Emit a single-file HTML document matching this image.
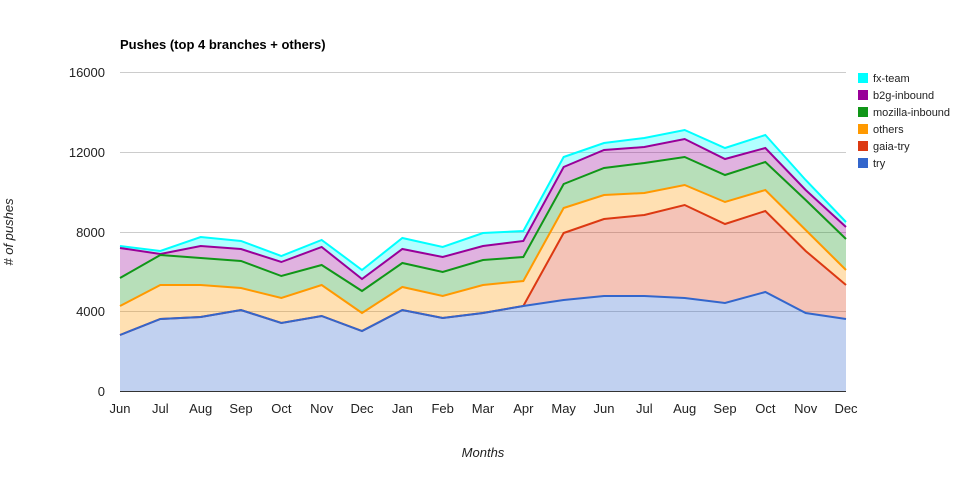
<!DOCTYPE html>
<html><head><meta charset="utf-8"><style>
html,body{margin:0;padding:0;background:#fff;}
svg{display:block;font-family:"Liberation Sans",Arial,sans-serif;}
</style></head><body>
<svg id="c" width="963" height="479" xmlns="http://www.w3.org/2000/svg">
<text x="120" y="49" font-size="13" font-weight="bold" fill="#000">Pushes (top 4 branches + others)</text>
<g stroke="#cccccc" stroke-width="1">
<line x1="120" x2="846" y1="72.5" y2="72.5"/><line x1="120" x2="846" y1="152.5" y2="152.5"/>
<line x1="120" x2="846" y1="232.5" y2="232.5"/><line x1="120" x2="846" y1="311.5" y2="311.5"/>
</g>
<g id="areas"></g>
<line x1="120" x2="846" y1="391.5" y2="391.5" stroke="#333" stroke-width="1"/>
<g font-size="13" fill="#222" text-anchor="end">
<text x="105" y="77">16000</text><text x="105" y="157">12000</text><text x="105" y="237">8000</text><text x="105" y="316">4000</text><text x="105" y="396">0</text>
</g>
<g id="xl" font-size="13" fill="#222" text-anchor="middle"></g>
<text x="483" y="457" font-size="13" font-style="italic" text-anchor="middle" fill="#222">Months</text>
<text transform="translate(13,232) rotate(-90)" font-size="13" font-style="italic" text-anchor="middle" fill="#222"># of pushes</text>
<g font-size="11" fill="#222">
<rect x="858" y="73" width="10" height="10" fill="#00ffff"/><text x="873" y="82">fx-team</text>
<rect x="858" y="90" width="10" height="10" fill="#990099"/><text x="873" y="99">b2g-inbound</text>
<rect x="858" y="107" width="10" height="10" fill="#109618"/><text x="873" y="116">mozilla-inbound</text>
<rect x="858" y="124" width="10" height="10" fill="#ff9900"/><text x="873" y="133">others</text>
<rect x="858" y="141" width="10" height="10" fill="#dc3912"/><text x="873" y="150">gaia-try</text>
<rect x="858" y="158" width="10" height="10" fill="#3366cc"/><text x="873" y="167">try</text>
</g>
</svg>
<script>
var ns="http://www.w3.org/2000/svg";
var X=i=>120+i*726/18;
var labels=["Jun","Jul","Aug","Sep","Oct","Nov","Dec","Jan","Feb","Mar","Apr","May","Jun","Jul","Aug","Sep","Oct","Nov","Dec"];
var xl=document.getElementById("xl");
labels.forEach((l,i)=>{var t=document.createElementNS(ns,"text");t.setAttribute("x",X(i));t.setAttribute("y",413);t.textContent=l;xl.appendChild(t);});
var S=[
["#3366cc",[335,319,317,310,323,316,331,310,318,313,306,300,296,296,298,303,292,313,319]],
["#dc3912",[335,319,317,310,323,316,331,310,318,313,306,233,219,215,205,224,211,251,285]],
["#ff9900",[306,285,285,288,298,285,313,287,296,285,281,208,195,193,185,202,190,230,270]],
["#109618",[278,255,258,261,276,265,291,263,272,260,257,184,168,163,157,175,162,200,239]],
["#990099",[248,254,246,249,262,247,279,249,257,246,241,167,150,147,139,159,148,190,227]],
["#00ffff",[246,251,237,241,256,240,270,238,247,233,231,157,143,138,130,148,135,180,222]]
];
var g=document.getElementById("areas");
var prev=labels.map(()=>391);
S.forEach(s=>{
 var top=s[1].map((y,i)=>X(i)+","+y);
 var bot=prev.map((y,i)=>X(i)+","+y).reverse();
 var p=document.createElementNS(ns,"polygon");
 p.setAttribute("points",top.concat(bot).join(" "));p.setAttribute("fill",s[0]);p.setAttribute("fill-opacity","0.3");
 g.appendChild(p);prev=s[1];
});
S.slice().reverse().forEach(s=>{
 var l=document.createElementNS(ns,"polyline");
 l.setAttribute("points",s[1].map((y,i)=>X(i)+","+y).join(" "));
 l.setAttribute("fill","none");l.setAttribute("stroke",s[0]);l.setAttribute("stroke-width","2");
 g.appendChild(l);
});
</script>
</body></html>
